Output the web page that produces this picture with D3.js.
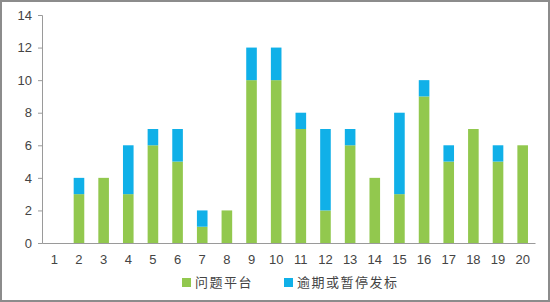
<!DOCTYPE html>
<html lang="zh">
<head>
  <meta charset="UTF-8">
  <title>问题平台</title>
  <script src="https://d3js.org/d3.v7.min.js"></script>
  <style>
    body { margin: 0; background: #fff; font-family: "Liberation Sans", Arial, "Noto Sans CJK SC", sans-serif; }
    svg { display: block; }
  </style>
</head>
<body>
  <script>
    const categories = ["1","2","3","4","5","6","7","8","9","10","11","12","13","14","15","16","17","18","19","20"];
    const problemPlatforms = [0, 3, 4, 3, 6, 5, 1, 2, 10, 10, 7, 2, 6, 4, 3, 9, 5, 7, 5, 6];
    const overdueOrPaused = [0, 1, 0, 3, 1, 2, 1, 0, 2, 2, 1, 5, 1, 0, 5, 1, 1, 0, 1, 0];
    const seriesNames = ["问题平台", "逾期或暂停发标"];
    const yTicks = [0, 2, 4, 6, 8, 10, 12, 14];

    const colors = ["#92c84e", "#10b0e8"];
    const W = 550, H = 302;
    const margin = { top: 15, right: 15, bottom: 59, left: 42 };

    const svg = d3.select("body").append("svg").attr("width", W).attr("height", H);

    // outer frame
    svg.append("rect")
      .attr("x", 1).attr("y", 1).attr("width", W - 2).attr("height", H - 2)
      .attr("fill", "#fff").attr("stroke", "#8c8c8c").attr("stroke-width", 2);

    const rows = categories.map((c, i) => ({ cat: c, a: problemPlatforms[i], b: overdueOrPaused[i] }));
    const stacked = d3.stack().keys(["a", "b"])(rows);

    const x = d3.scaleBand().domain(categories)
      .range([margin.left, W - margin.right]).paddingInner(0.57).paddingOuter(0.285);
    const y = d3.scaleLinear().domain([0, 14]).range([H - margin.bottom, margin.top]);

    svg.append("g")
      .selectAll("g")
      .data(stacked)
      .join("g")
      .attr("fill", (d, i) => colors[i])
      .selectAll("rect")
      .data(d => d)
      .join("rect")
      .attr("x", d => x(d.data.cat))
      .attr("width", x.bandwidth())
      .attr("y", d => y(d[1]))
      .attr("height", d => y(d[0]) - y(d[1]));

    const yAxis = svg.append("g")
      .attr("transform", `translate(${margin.left},0)`)
      .call(d3.axisLeft(y).tickValues(yTicks).tickSize(4).tickPadding(6));
    yAxis.select(".domain").attr("stroke", "#9a9a9a");
    yAxis.selectAll(".tick line").attr("stroke", "#9a9a9a");
    yAxis.selectAll("text").attr("fill", "#444").attr("font-size", 13);

    const xAxis = svg.append("g")
      .attr("transform", `translate(0,${H - margin.bottom})`)
      .call(d3.axisBottom(x).tickSize(0).tickPadding(12).tickSizeOuter(0));
    xAxis.select(".domain").attr("stroke", "#9a9a9a");
    xAxis.selectAll("text").attr("fill", "#444").attr("font-size", 13);

    // legend
    const legendX = [182, 284];
    const legend = svg.append("g")
      .selectAll("g")
      .data(seriesNames)
      .join("g")
      .attr("transform", (d, i) => `translate(${legendX[i]},277)`);
    legend.append("rect").attr("width", 9).attr("height", 9).attr("y", 1)
      .attr("fill", (d, i) => colors[i]);
    legend.append("text")
      .attr("x", 13).attr("y", 10)
      .attr("font-size", 13).attr("fill", "#444")
      .attr("letter-spacing", 1.5)
      .attr("font-family", "'Noto Sans CJK SC', sans-serif")
      .text(d => d);
  </script>
</body>
</html>
